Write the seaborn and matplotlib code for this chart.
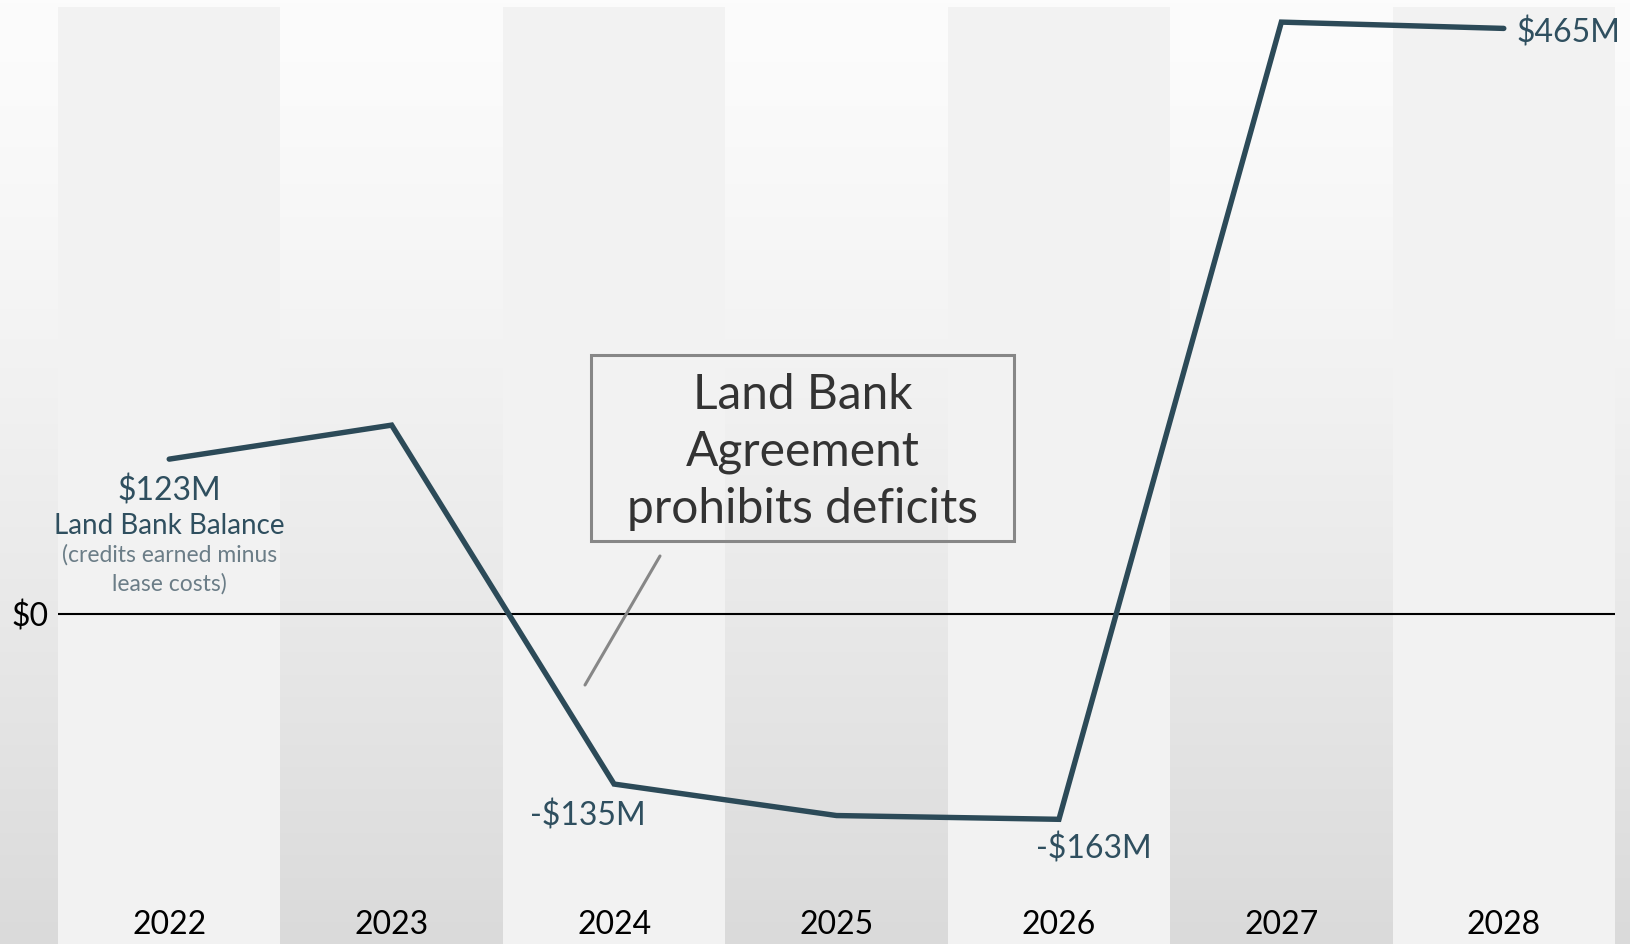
import numpy as np
import pandas as pd
import matplotlib
matplotlib.use("Agg")
import matplotlib.pyplot as plt
import matplotlib.transforms as mtrans
from matplotlib.patches import Rectangle
from matplotlib.lines import Line2D
import seaborn as sns

years = ["2022", "2023", "2024", "2025", "2026", "2027", "2028"]
balance = [123, 150, -135, -160, -163, 470, 465]
labelled = {"2022": "$123M", "2024": "-$135M", "2026": "-$163M", "2028": "$465M"}

sns.set_theme(style="white")
plt.rcParams["font.family"] = ["Lato", "DejaVu Sans"]

W, H = 1631, 945
fig = plt.figure(figsize=(W / 100, H / 100), dpi=100)

# background gradient
bg = fig.add_axes([0, 0, 1, 1], zorder=-10)
grad = np.linspace(0, 1, 256).reshape(-1, 1)
top = np.array([0xfc, 0xfc, 0xfc]) / 255
bot = np.array([0xda, 0xda, 0xda]) / 255
img = top + (bot - top) * grad[:, :, None] ** 1.3
bg.imshow(img, aspect="auto", extent=[0, 1, 0, 1], origin="upper")
bg.set_axis_off()

ax = fig.add_axes([58 / W, 0, (1615 - 58) / W, (945 - 8) / H])
ax.set_facecolor("none")
ax.patch.set_alpha(0)

df = pd.DataFrame({"x": np.arange(len(years)), "value": balance})

for i in range(len(years)):
    if i % 2 == 0:
        ax.axvspan(i - 0.5, i + 0.5, color="#f2f2f2", lw=0, zorder=0)

ax.axhline(0, color="black", lw=1.5, zorder=2)

line_color = "#2c4a58"
sns.lineplot(data=df, x="x", y="value", ax=ax, color=line_color, lw=3.9,
             zorder=3, solid_capstyle="round", solid_joinstyle="miter")

ax.set_xlim(-0.5, len(years) - 0.5)
ax.set_ylim(-262, 482)

for s in ax.spines.values():
    s.set_visible(False)
ax.set_xlabel("")
ax.set_ylabel("")
ax.set_xticks([])
ax.set_yticks([0])
ax.set_yticklabels(["$0"], fontsize=23, color="black")
ax.tick_params(axis="y", length=0, pad=7)
for lbl in ax.get_yticklabels():
    lbl.set_transform(lbl.get_transform() + mtrans.Affine2D().translate(0, 1))

# year labels inside bottom of bands
yr_tr = mtrans.blended_transform_factory(ax.transData, fig.transFigure)
for i, yr in enumerate(years):
    ax.text(i, (945 - 925) / H, yr, transform=yr_tr,
            ha="center", va="center", fontsize=23, color="black")

val_color = "#2f4f5f"
offsets = {"2022": (0, -31, "center"), "2024": (-26, -31, "center"),
           "2026": (35, -29, "center"), "2028": (13, -4, "left")}
for i, yr in enumerate(years):
    if yr in labelled:
        dx, dy, ha = offsets[yr]
        ax.annotate(labelled[yr], (i, balance[i]), xytext=(dx, dy),
                    textcoords="offset pixels", ha=ha, va="center",
                    fontsize=23, color=val_color, zorder=4)

ax.annotate("Land Bank Balance", (0, balance[0]), xytext=(0, -66),
            textcoords="offset pixels", ha="center", va="center",
            fontsize=20, color=val_color)
ax.annotate("(credits earned minus\nlease costs)", (0, balance[0]), xytext=(0, -109),
            textcoords="offset pixels", ha="center", va="center",
            fontsize=16.5, color="#6b7d87", linespacing=1.45)

# annotation box
bx0, by0, bx1, by1 = 591, 356, 1014, 542
fig.patches.append(Rectangle((bx0 / W, 1 - by1 / H), (bx1 - bx0) / W, (by1 - by0) / H,
                             transform=fig.transFigure, fill=False,
                             edgecolor="#878787", lw=2.2, zorder=5))
fig.text((bx0 + bx1) / 2 / W, 1 - 452 / H, "Land Bank\nAgreement\nprohibits deficits",
         ha="center", va="center", fontsize=34.5, color="#333333", linespacing=1.36,
         zorder=6)
fig.add_artist(Line2D([660 / W, 585 / W], [1 - 557 / H, 1 - 686 / H],
                      transform=fig.transFigure, color="#878787", lw=2.2))

fig.savefig("out.png", dpi=100)
